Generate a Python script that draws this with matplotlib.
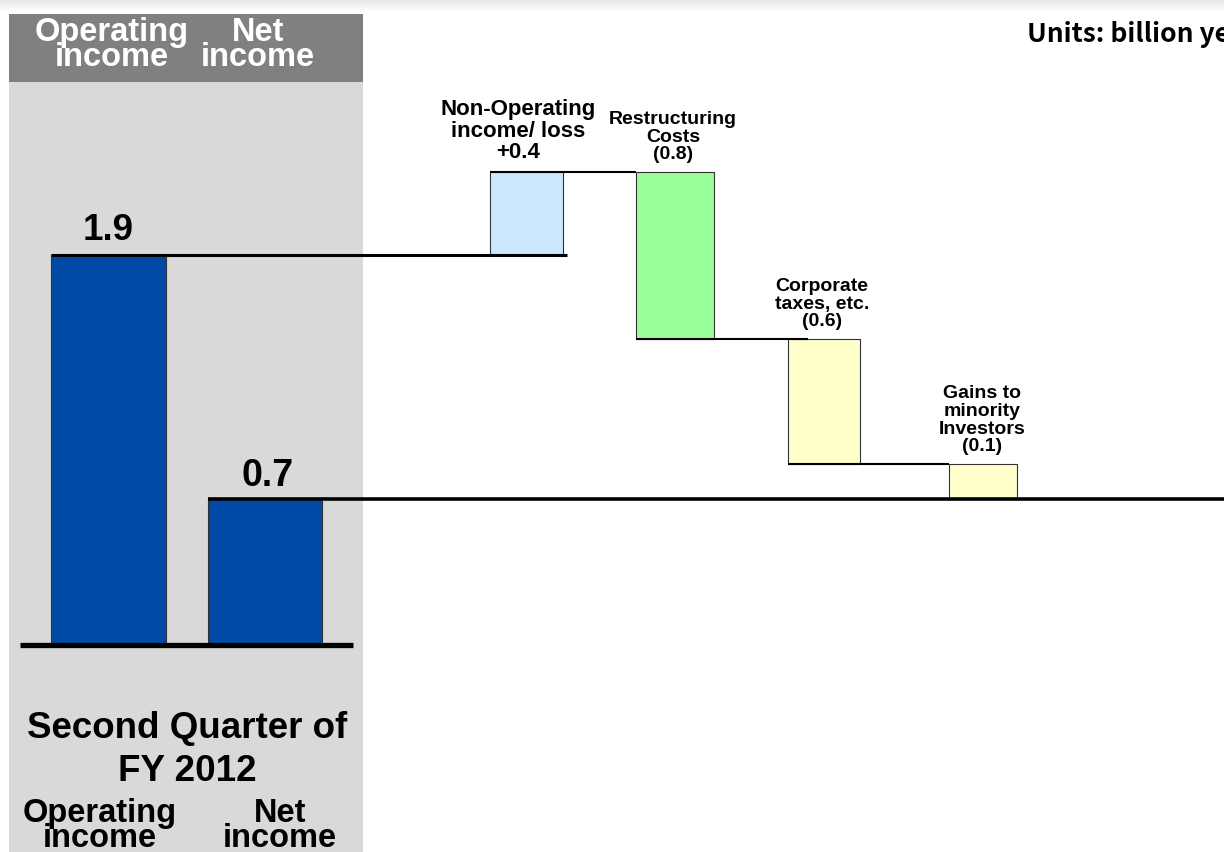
import matplotlib.pyplot as plt
import numpy as np
from matplotlib.patches import Rectangle

# values (billion yen)
op_income = 1.87
net_income = 0.70
step_names = ['Non-Operating\nincome/ loss', 'Restructuring\nCosts', 'Corporate\ntaxes, etc.',
              'Gains to\nminority\nInvestors']
step_values = [0.40, -0.80, -0.60, -0.17]
step_labels = ['+0.4', '(0.8)', '(0.6)', '(0.1)']
step_colors = ['#CCE8FF', '#99FF99', '#FFFFCC', '#FFFFCC']
total_labels = ['1.9', '0.7']

plt.rcParams['font.family'] = ['Liberation Sans', 'DejaVu Sans']

W, H = 1224, 852
fig = plt.figure(figsize=(W / 100, H / 100), dpi=100)
ax = fig.add_axes([0, 0, 1, 1])
# y in value units: 0 at pixel 645, 208.5 px per unit
zero_px, ppu = 645, 208.5
ax.set_xlim(0, W)
ax.set_ylim((zero_px - H) / ppu, zero_px / ppu)
ax.axis('off')

def v(py):
    return (zero_px - py) / ppu

# top gradient strip
grad = np.linspace(0.90, 1.0, 20).reshape(-1, 1)
ax.imshow(grad, cmap='gray', vmin=0, vmax=1, aspect='auto',
          extent=[0, W, v(12), v(0)], zorder=0)

# grey panel + header
ax.add_patch(Rectangle((9, v(852)), 354, v(82) - v(852), color='#D9D9D9', zorder=1, lw=0))
ax.add_patch(Rectangle((9, v(82)), 354, v(14) - v(82), color='#808080', zorder=1, lw=0))

# total bars
bar_kw = dict(edgecolor='#333333', linewidth=0.8, zorder=3, align='edge')
ax.bar([51, 208], [op_income, net_income], width=[115, 114], color='#004AA5', **bar_kw)

# waterfall steps
step_x = [490, 636, 788, 949]
step_w = [73, 78, 72, 68]
level = op_income
tops = []
for x, w, d, c in zip(step_x, step_w, step_values, step_colors):
    lo, hi = min(level, level + d), max(level, level + d)
    ax.bar(x, hi - lo, bottom=lo, width=w, color=c, **bar_kw)
    tops.append(hi)
    level += d

lv1 = op_income + step_values[0]
lv2 = lv1 + step_values[1]
lv3 = lv2 + step_values[2]

# connector lines
ax.plot([51, 567], [op_income, op_income], color='black', lw=2.2, zorder=4, solid_capstyle='butt')
ax.plot([490, 636], [lv1, lv1], color='black', lw=1.5, zorder=4, solid_capstyle='butt')
ax.plot([636, 808], [lv2, lv2], color='black', lw=1.5, zorder=4, solid_capstyle='butt')
ax.plot([788, 949], [lv3, lv3], color='black', lw=1.5, zorder=4, solid_capstyle='butt')
ax.plot([208, W], [net_income, net_income], color='black', lw=2.6, zorder=4, solid_capstyle='butt')
ax.plot([20, 353], [0, 0], color='black', lw=3.8, zorder=4, solid_capstyle='butt')

# total value labels
ax.text(108, op_income + 0.12, total_labels[0], ha='center', va='center',
        fontsize=26.5, fontweight='bold', zorder=5)
ax.text(268, net_income + 0.11, total_labels[1], ha='center', va='center',
        fontsize=27, fontweight='bold', zorder=5)

# step labels
lab_cx = [518, 673, 822, 982]
lab_fs = [16, 14, 14, 14]
for cx, t, name, lab, fs in zip(lab_cx, tops, step_names, step_labels, lab_fs):
    ax.text(cx, t + 0.04, name + '\n' + lab, ha='center', va='bottom', fontsize=fs,
            fontweight='bold', linespacing=1.05, zorder=5)

# header and footer captions
for cx, s in [(112, 'Operating\nincome'), (258, 'Net\nincome')]:
    ax.text(cx, v(45), s, ha='center', va='center', color='white', fontsize=23.5,
            fontweight='bold', linespacing=0.72, zorder=5)
for cx, s in [(100, 'Operating\nincome'), (280, 'Net\nincome')]:
    ax.text(cx, v(826), s, ha='center', va='center', color='black', fontsize=23.5,
            fontweight='bold', linespacing=0.72, zorder=5)
ax.text(187, v(750), 'Second Quarter of\nFY 2012', ha='center', va='center',
        fontsize=26.5, fontweight='bold', linespacing=1.3, zorder=5)

ax.text(1027, v(35), 'Units: billion yen', ha='left', va='center', fontsize=19,
        fontweight='bold', family=['Noto Sans CJK JP', 'DejaVu Sans'], zorder=5)

fig.savefig('out.png', dpi=100)
